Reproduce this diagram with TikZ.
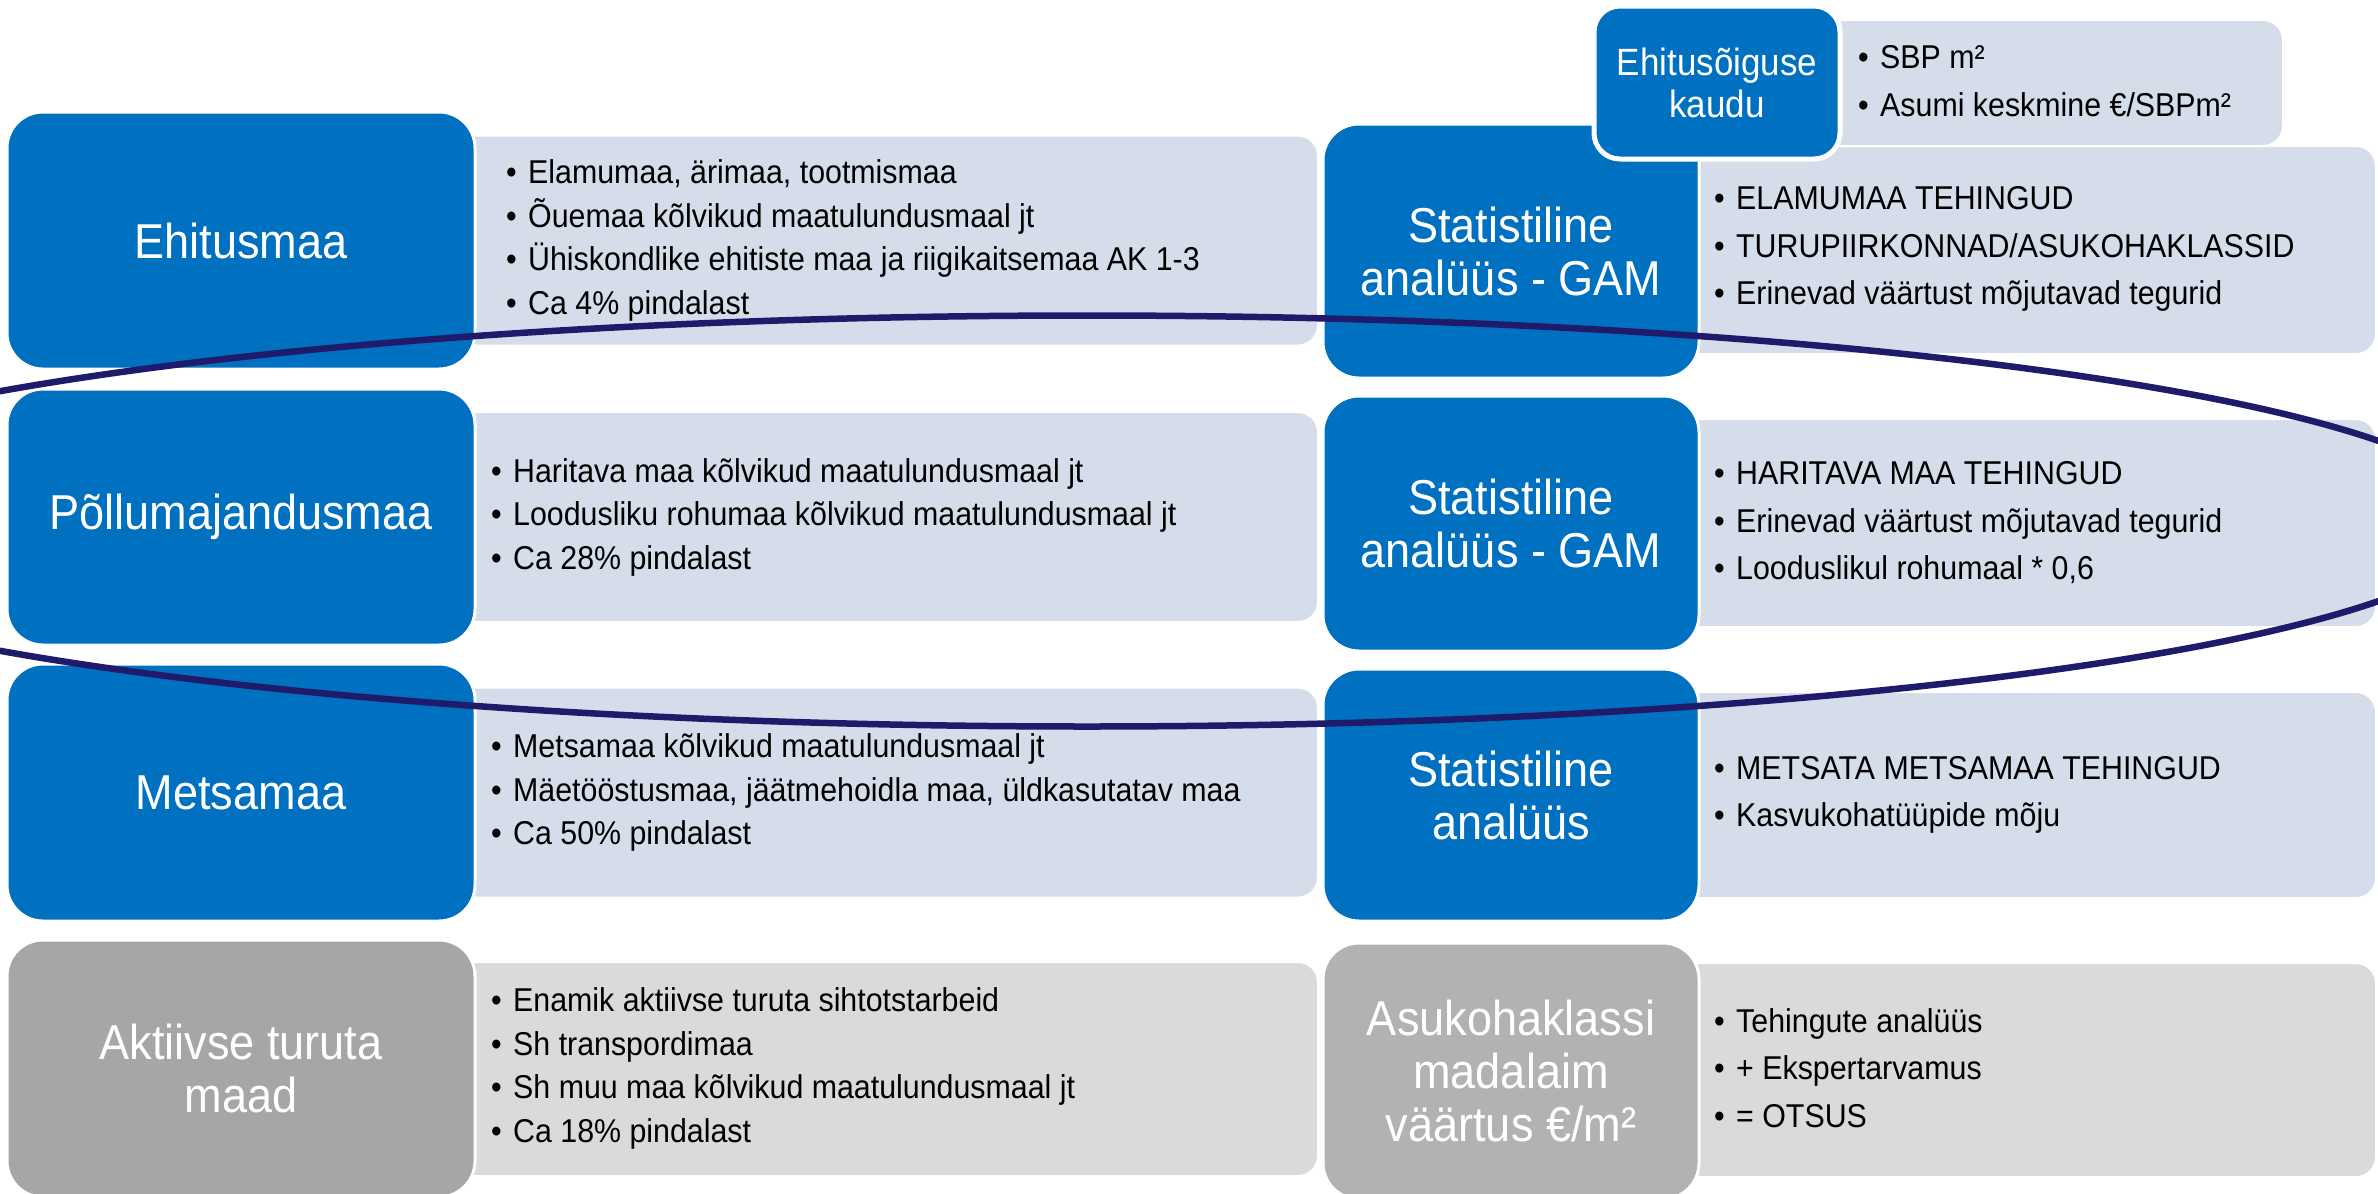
\documentclass[tikz,border=0pt]{standalone}
\usepackage{fontspec}
\setmainfont[FakeStretch=0.92]{Liberation Sans}
\definecolor{dblue}{RGB}{0,112,192}
\definecolor{lblue}{RGB}{213,221,235}
\definecolor{dgrayL}{RGB}{166,166,166}
\definecolor{dgrayR}{RGB}{178,178,178}
\definecolor{lgray}{RGB}{218,218,218}
\definecolor{navy}{RGB}{31,27,106}
\newcommand{\bitem}[1]{\makebox[22pt][l]{\textbullet}#1}
\begin{document}
\begin{tikzpicture}[x=1pt,y=-1pt,
  darkbox/.style={rectangle, rounded corners=36pt, draw=white, line width=3pt,
    inner sep=0pt, outer sep=0pt, text=white, align=center,
    font=\fontsize{49}{53}\selectfont},
  lightbox/.style={rectangle, rounded corners=20pt, draw=white, line width=2pt,
    inner sep=0pt, outer sep=0pt},
  bultext/.style={anchor=west, align=left, inner sep=0pt, text=black,
    font=\fontsize{33}{43.5}\selectfont},
  bultextR/.style={bultext, font=\fontsize{33}{47.5}\selectfont},
  ring/.style={draw=navy, line width=6.5pt}
]
\useasboundingbox[fill=white] (0,0) rectangle (2378,1194);

% ---- left column light boxes
\node[lightbox, fill=lblue, minimum width=1018pt, minimum height=210pt] (l1) at (809,240.5) {};
\node[lightbox, fill=lblue, minimum width=1018pt, minimum height=210pt] (l2) at (809,517) {};
\node[lightbox, fill=lblue, minimum width=1018pt, minimum height=210pt] (l3) at (809,792.5) {};
\node[lightbox, fill=lgray, minimum width=1018pt, minimum height=214pt] (l4) at (809,1069) {};

% ---- left column dark boxes
\node[darkbox, fill=dblue, minimum width=468pt, minimum height=257pt] (d1) at (241,240.5) {Ehitusmaa};
\node[darkbox, fill=dblue, minimum width=468pt, minimum height=256pt] (d2) at (241,517) {Põllumajandusmaa};
\node[darkbox, fill=dblue, minimum width=468pt, minimum height=257pt] (d3) at (241,792.5) {Metsamaa};
\node[darkbox, fill=dgrayL, minimum width=468pt, minimum height=257pt] (d4) at (241,1068.5) {Aktiivse turuta\\maad};

% ---- left texts
\node[bultext] (t1) at (506,240.5) {\bitem{Elamumaa, ärimaa, tootmismaa}\\\bitem{Õuemaa kõlvikud maatulundusmaal jt}\\\bitem{Ühiskondlike ehitiste maa ja riigikaitsemaa AK 1-3}\\\bitem{Ca 4\% pindalast}};
\node[bultext] (t2) at (491,517) {\bitem{Haritava maa kõlvikud maatulundusmaal jt}\\\bitem{Loodusliku rohumaa kõlvikud maatulundusmaal jt}\\\bitem{Ca 28\% pindalast}};
\node[bultext] (t3) at (491,792.5) {\bitem{Metsamaa kõlvikud maatulundusmaal jt}\\\bitem{Mäetööstusmaa, jäätmehoidla maa, üldkasutatav maa}\\\bitem{Ca 50\% pindalast}};
\node[bultext] (t4) at (491,1068.5) {\bitem{Enamik aktiivse turuta sihtotstarbeid}\\\bitem{Sh transpordimaa}\\\bitem{Sh muu maa kõlvikud maatulundusmaal jt}\\\bitem{Ca 18\% pindalast}};

% ---- right column light boxes
\node[lightbox, fill=lblue, minimum width=826pt, minimum height=208pt] (r1l) at (1963,250) {};
\node[lightbox, fill=lblue, minimum width=826pt, minimum height=208pt] (r2l) at (1963,523) {};
\node[lightbox, fill=lblue, minimum width=826pt, minimum height=206pt] (r3l) at (1963,795) {};
\node[lightbox, fill=lgray, minimum width=826pt, minimum height=214pt] (r4l) at (1963,1070) {};

% ---- right column dark boxes
\node[darkbox, fill=dblue, minimum width=376pt, minimum height=254pt] (r1) at (1511,251) {Statistiline\\analüüs - GAM};
\node[darkbox, fill=dblue, minimum width=376pt, minimum height=255pt] (r2) at (1511,523.5) {Statistiline\\analüüs - GAM};
\node[darkbox, fill=dblue, minimum width=376pt, minimum height=252pt] (r3) at (1511,795) {Statistiline\\analüüs};
\node[darkbox, fill=dgrayR, minimum width=376pt, minimum height=256pt] (r4) at (1511,1071) {Asukohaklassi\\madalaim\\väärtus €/m²};

% ---- right texts
\node[bultextR] (s1) at (1714,249) {\bitem{ELAMUMAA TEHINGUD}\\\bitem{TURUPIIRKONNAD/ASUKOHAKLASSID}\\\bitem{Erinevad väärtust mõjutavad tegurid}};
\node[bultextR] (s2) at (1714,523) {\bitem{HARITAVA MAA TEHINGUD}\\\bitem{Erinevad väärtust mõjutavad tegurid}\\\bitem{Looduslikul rohumaal * 0,6}};
\node[bultextR] (s3) at (1714,795) {\bitem{METSATA METSAMAA TEHINGUD}\\\bitem{Kasvukohatüüpide mõju}};
\node[bultextR] (s4) at (1714,1068) {\bitem{Tehingute analüüs}\\\bitem{+ Ekspertarvamus}\\\bitem{= OTSUS}};

% ---- top small box
\node[lightbox, fill=lblue, minimum width=533pt, minimum height=126pt] (tl) at (2016.5,83) {};
\node[darkbox, fill=dblue, rounded corners=26pt, line width=5pt, minimum width=246pt, minimum height=153pt,
  font=\fontsize{38}{42}\selectfont] (td) at (1717,82.5) {Ehitusõiguse\\kaudu};
\node[bultextR, font=\fontsize{33}{48}\selectfont] (tt) at (1858,81) {\bitem{SBP m²}\\\bitem{Asumi keskmine €/SBPm²}};

% ---- ring
\draw[ring] (1087,521) ellipse [x radius=1402pt, y radius=205.5pt];
\end{tikzpicture}
\end{document}
